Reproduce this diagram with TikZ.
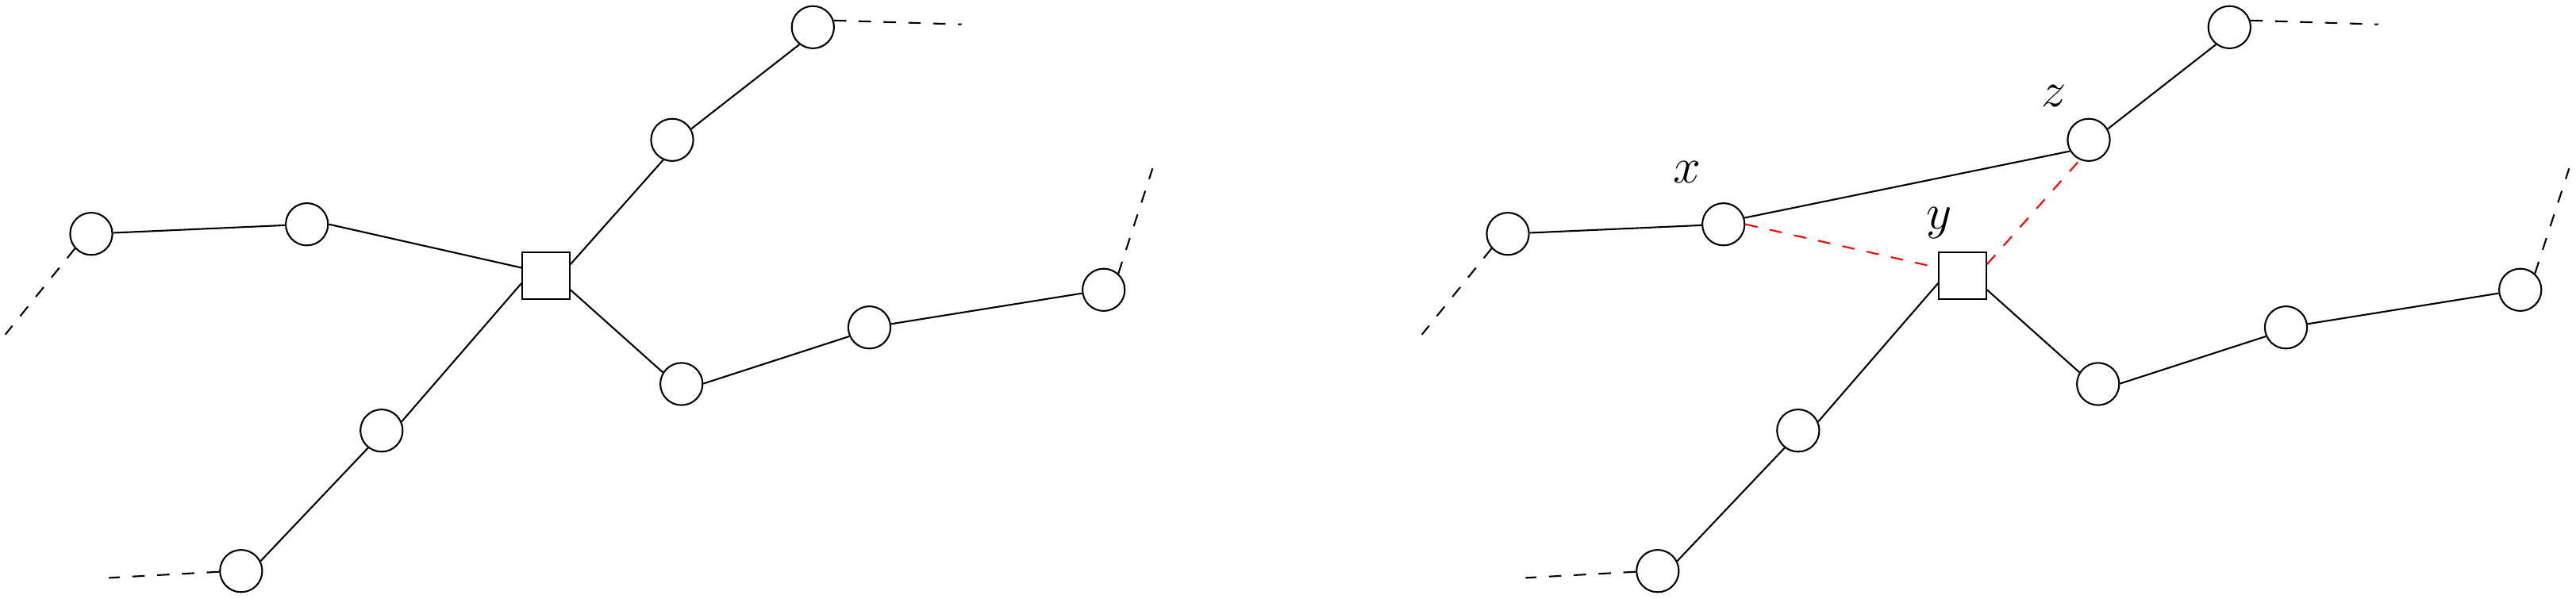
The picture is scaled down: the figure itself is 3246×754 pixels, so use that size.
\documentclass[tikz,border=0pt]{standalone}
\tikzset{
  vtx/.style={circle,draw,line width=0.4pt,minimum size=10.2pt,inner sep=0pt},
  sqr/.style={rectangle,draw,line width=0.4pt,minimum size=11.4pt,inner sep=0pt},
  ln/.style={line width=0.4pt},
  openend/.style={line width=0.4pt,dashed},
  redln/.style={line width=0.4pt,dashed,red},
  lbl/.style={anchor=base,inner sep=0pt,font=\large}
}
\begin{document}
\begin{tikzpicture}[x=0.1916pt,y=-0.1916pt]
\useasboundingbox (0,0) rectangle (3246,754);
% ---------- left graph ----------
\node[sqr] (S) at (688,347.5) {};
\node[vtx] (A) at (847,176.3) {};
\node[vtx] (B) at (1024.3,34.3) {};
\node[vtx] (C) at (386.7,282.7) {};
\node[vtx] (D) at (115,294.7) {};
\node[vtx] (E) at (480.8,542.7) {};
\node[vtx] (F) at (303.8,719.7) {};
\node[vtx] (G) at (858.7,484) {};
\node[vtx] (H) at (1095.5,412.7) {};
\node[vtx] (I) at (1390.7,365.3) {};
\coordinate (Bend) at (1211.7,30.7);
\coordinate (Dend) at (6.7,421.7);
\coordinate (Fend) at (137.3,728.3);
\coordinate (Iend) at (1452.3,212.3);
\draw[ln] (D) -- (C);
\draw[ln] (C.0) -- (S.162);
\draw[ln] (S.25) -- (A.246);
\draw[ln] (A.30) -- (B.232);
\draw[ln] (S.197) -- (E.24);
\draw[ln] (E.232) -- (F.27);
\draw[ln] (S.330) -- (G.148);
\draw[ln] (G.1) -- (H.204);
\draw[ln] (H) -- (I);
\draw[openend] (B.18) -- (Bend);
\draw[openend] (D.222) -- (Dend);
\draw[openend] (F.182) -- (Fend);
\draw[openend] (I.48) -- (Iend);
% ---------- right graph ----------
\node[sqr] (S2) at (2473,347.5) {};
\node[vtx] (A2) at (2632,176.3) {};
\node[vtx] (B2) at (2809.3,34.3) {};
\node[vtx] (C2) at (2171.7,282.7) {};
\node[vtx] (D2) at (1900,294.7) {};
\node[vtx] (E2) at (2265.8,542.7) {};
\node[vtx] (F2) at (2088.8,719.7) {};
\node[vtx] (G2) at (2643.7,484) {};
\node[vtx] (H2) at (2880.5,412.7) {};
\node[vtx] (I2) at (3175.7,365.3) {};
\coordinate (B2end) at (2996.7,30.7);
\coordinate (D2end) at (1791.7,421.7);
\coordinate (F2end) at (1922.3,728.3);
\coordinate (I2end) at (3237.3,212.3);
\draw[ln] (D2) -- (C2);
\draw[ln] (C2.17) -- (A2.211);
\draw[ln] (A2.30) -- (B2.232);
\draw[ln] (S2.197) -- (E2.24);
\draw[ln] (E2.232) -- (F2.27);
\draw[ln] (S2.330) -- (G2.148);
\draw[ln] (G2.1) -- (H2.204);
\draw[ln] (H2) -- (I2);
\draw[openend] (B2.18) -- (B2end);
\draw[openend] (D2.222) -- (D2end);
\draw[openend] (F2.182) -- (F2end);
\draw[openend] (I2.48) -- (I2end);
\draw[redln] (C2.0) -- (S2.162);
\draw[redln] (S2.25) -- (A2.246);
\node[lbl] (xl) at (2126,230.7) {$x$};
\node[lbl] (zl) at (2588,134) {$z$};
\node[lbl] (yl) at (2444,288.7) {$y$};
\end{tikzpicture}
\end{document}
